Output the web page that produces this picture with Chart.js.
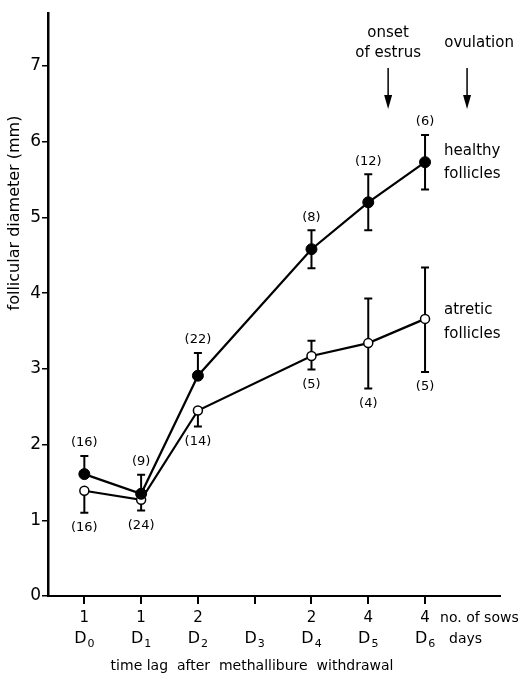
<!DOCTYPE html>
<html>
<head>
<meta charset="utf-8">
<script src="https://cdn.jsdelivr.net/npm/chart.js@4.4.0/dist/chart.umd.min.js"></script>
<style>
  html, body { margin: 0; padding: 0; background: #fff; }
  #wrap { width: 529px; height: 676px; }
</style>
</head>
<body>
<div id="wrap"><canvas id="chart" width="529" height="676"></canvas></div>
<script>
// days after withdrawal (D0..D6) and number of sows per day
const days = [0, 1, 2, 3, 4, 5, 6];
const sows = ['1', '1', '2', '', '2', '4', '4'];
const yTicks = [0, 1, 2, 3, 4, 5, 6, 7];

// days that have measurements (no D3)
const sampleDays = [0, 1, 2, 4, 5, 6];

// healthy follicles: mean, error bar ends, n follicles
const healthy   = [1.61, 1.35, 2.91, 4.58, 5.20, 5.73];
const healthyHi = [1.85, 1.60, 3.21, 4.83, 5.57, 6.09];
const healthyLo = [null, null, null, 4.33, 4.83, 5.37];
const healthyN  = [16, 9, 22, 8, 12, 6];

// atretic follicles
const atretic   = [1.39, 1.27, 2.45, 3.17, 3.34, 3.66];
const atreticHi = [null, null, null, 3.37, 3.93, 4.34];
const atreticLo = [1.10, 1.13, 2.24, 2.99, 2.74, 2.96];
const atreticN  = [16, 24, 14, 5, 4, 5];

// event arrows (day position)
const events = [
  { lines: ['onset', 'of estrus'], day: 5.35 },
  { lines: ['ovulation'], day: 6.74 }
];

const FONT = '"DejaVu Sans", sans-serif';

const toPts = (xs, ys) => xs.map((x, i) => ({ x: x, y: ys[i] }));

const drawings = {
  id: 'drawings',
  beforeDatasetsDraw(chart) {
    const ctx = chart.ctx, sx = chart.scales.x, sy = chart.scales.y;
    ctx.save();
    ctx.strokeStyle = '#000';
    ctx.lineWidth = 2;
    const bar = (d, from, to) => {
      if (to == null) return;
      const px = sx.getPixelForValue(d);
      const a = sy.getPixelForValue(from), b = sy.getPixelForValue(to);
      ctx.beginPath();
      ctx.moveTo(px, a); ctx.lineTo(px, b);
      ctx.moveTo(px - 4, b); ctx.lineTo(px + 4, b);
      ctx.stroke();
    };
    sampleDays.forEach((d, i) => {
      bar(d, healthy[i], healthyHi[i]);
      bar(d, healthy[i], healthyLo[i]);
      bar(d, atretic[i], atreticHi[i]);
      bar(d, atretic[i], atreticLo[i]);
    });
    ctx.restore();
  },
  afterDraw(chart) {
    const ctx = chart.ctx, sx = chart.scales.x, sy = chart.scales.y;
    const area = chart.chartArea;
    ctx.save();
    ctx.fillStyle = '#000';
    ctx.strokeStyle = '#000';
    ctx.textBaseline = 'middle';

    // n counts
    ctx.font = '13px ' + FONT;
    ctx.textAlign = 'center';
    sampleDays.forEach((d, i) => {
      const px = sx.getPixelForValue(d);
      ctx.fillText('(' + healthyN[i] + ')', px, sy.getPixelForValue(healthyHi[i]) - 13);
      ctx.fillText('(' + atreticN[i] + ')', px, sy.getPixelForValue(atreticLo[i]) + 15);
    });

    // series names
    ctx.font = '15px ' + FONT;
    ctx.textAlign = 'left';
    const lx = sx.getPixelForValue(6) + 19;
    ctx.fillText('healthy', lx, sy.getPixelForValue(5.87));
    ctx.fillText('follicles', lx, sy.getPixelForValue(5.57));
    ctx.fillText('atretic', lx, sy.getPixelForValue(3.77));
    ctx.fillText('follicles', lx, sy.getPixelForValue(3.46));

    // event arrows
    ctx.textAlign = 'center';
    ctx.font = '15px ' + FONT;
    events.forEach(ev => {
      const px = sx.getPixelForValue(ev.day);
      const n = ev.lines.length;
      ev.lines.forEach((t, k) => {
        const base = n === 1 ? 43 : 33 + k * 20;
        ctx.fillText(t, n === 1 ? px + 12 : px, base);
      });
      ctx.lineWidth = 1.5;
      ctx.beginPath();
      ctx.moveTo(px, 68); ctx.lineTo(px, 98);
      ctx.stroke();
      ctx.beginPath();
      ctx.moveTo(px - 4, 95); ctx.lineTo(px + 4, 95); ctx.lineTo(px, 109);
      ctx.closePath();
      ctx.fill();
    });

    // x rows: sows, day labels, title
    const rowSows = area.bottom + 22, rowDay = area.bottom + 43, rowTitle = area.bottom + 70;
    days.forEach((d, i) => {
      const px = sx.getPixelForValue(d);
      ctx.font = '15px ' + FONT;
      ctx.textAlign = 'center';
      ctx.fillText(sows[i], px, rowSows);
      ctx.font = '16px ' + FONT;
      const wD = ctx.measureText('D').width;
      ctx.font = '11px ' + FONT;
      const wS = ctx.measureText(String(d)).width;
      const start = px - (wD + wS + 1) / 2;
      ctx.textAlign = 'left';
      ctx.font = '16px ' + FONT;
      ctx.fillText('D', start, rowDay);
      ctx.font = '11px ' + FONT;
      ctx.fillText(String(d), start + wD + 1, rowDay + 5);
    });
    ctx.font = '14px ' + FONT;
    ctx.textAlign = 'left';
    ctx.fillText('no. of sows', sx.getPixelForValue(6) + 15, rowSows);
    ctx.fillText('days', sx.getPixelForValue(6) + 24, rowDay);
    ctx.textAlign = 'center';
    ctx.fillText('time lag  after  methallibure  withdrawal', 252, rowTitle);

    // y title
    ctx.translate(15, 213);
    ctx.rotate(-Math.PI / 2);
    ctx.font = '16px ' + FONT;
    ctx.fillText('follicular diameter (mm)', 0, 0);
    ctx.restore();
  }
};

const ctx = document.getElementById('chart').getContext('2d');
const myChart = new Chart(ctx, {
  type: 'line',
  data: {
    datasets: [{
      label: 'healthy follicles',
      data: toPts(sampleDays, healthy),
      borderColor: '#000',
      borderWidth: 2.2,
      pointRadius: 5.5,
      pointBackgroundColor: '#000',
      pointBorderColor: '#000',
      pointBorderWidth: 1
    }, {
      label: 'atretic follicles',
      data: toPts(sampleDays, atretic),
      borderColor: '#000',
      borderWidth: 2.2,
      pointRadius: 4.5,
      pointBackgroundColor: '#fff',
      pointBorderColor: '#000',
      pointBorderWidth: 1.5
    }]
  },
  options: {
    responsive: false,
    animation: false,
    clip: false,
    layout: { padding: { top: 13, right: 29, left: 0, bottom: 0 } },
    plugins: { legend: { display: false }, tooltip: { enabled: false } },
    scales: {
      x: {
        type: 'linear',
        min: -0.64,
        max: 7.32,
        afterFit: s => { s.height = 80; },
        afterBuildTicks: s => { s.ticks = days.map(v => ({ value: v })); },
        ticks: { display: false },
        border: { color: '#000', width: 2 },
        grid: { drawOnChartArea: false, drawTicks: true, tickLength: 8, color: '#000', lineWidth: 2 }
      },
      y: {
        min: 0,
        max: 7.7,
        afterFit: s => { s.width = 48; },
        afterBuildTicks: s => { s.ticks = yTicks.map(v => ({ value: v })); },
        ticks: { color: '#000', font: { family: FONT, size: 17 }, padding: 1 },
        border: { color: '#000', width: 2.5 },
        grid: { drawOnChartArea: false, drawTicks: true, tickLength: 6, color: '#000', lineWidth: 1.5 }
      }
    }
  },
  plugins: [drawings]
});
</script>
</body>
</html>
